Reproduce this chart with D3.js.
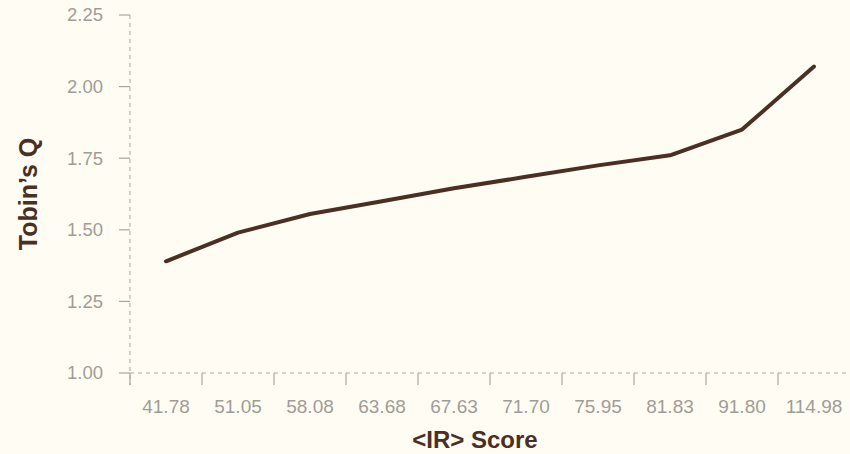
<!DOCTYPE html>
<html><head><meta charset="utf-8">
<script src="https://cdn.jsdelivr.net/npm/d3@7"></script>
<style>
html,body{margin:0;padding:0;background:#fffdf3;}
svg{display:block;}
</style></head>
<body>
<svg id="chart" width="850" height="454"></svg>
<script>
const categories = ["41.78","51.05","58.08","63.68","67.63","71.70","75.95","81.83","91.80","114.98"];
const tobinsQ = [1.39, 1.49, 1.555, 1.60, 1.645, 1.685, 1.725, 1.76, 1.85, 2.07];
const yTicks = [1.00, 1.25, 1.50, 1.75, 2.00, 2.25];

(function () {
const svg = d3.select("#chart");
const W = 850, H = 454;
const mLeft = 130, mRight = 850, mTop = 15, mBottom = 373;

svg.append("rect").attr("width", W).attr("height", H).attr("fill", "#fffdf3");

const x = d3.scaleBand().domain(categories).range([mLeft, mRight]).padding(0);
const y = d3.scaleLinear().domain([1, 2.25]).range([mBottom, mTop]);

const axisColor = "#a9a6a0";
const tickText = "#9f9c97";
const brown = "#4a2f22";

svg.append("line").attr("x1", mLeft).attr("x2", mLeft).attr("y1", mTop).attr("y2", mBottom + 12)
  .attr("stroke", axisColor).attr("stroke-width", 1).attr("stroke-dasharray", "4,4");
svg.append("line").attr("x1", mLeft).attr("x2", mRight).attr("y1", mBottom).attr("y2", mBottom)
  .attr("stroke", axisColor).attr("stroke-width", 1).attr("stroke-dasharray", "4,4");

const yg = svg.append("g");
yTicks.forEach(t => {
  yg.append("line").attr("x1", mLeft - 11).attr("x2", mLeft).attr("y1", y(t)).attr("y2", y(t))
    .attr("stroke", axisColor).attr("stroke-width", 1.2);
  yg.append("text").attr("x", 103).attr("y", y(t)).attr("dy", "0.35em")
    .attr("text-anchor", "end").attr("fill", tickText)
    .attr("font-family", "Liberation Sans, Arial, sans-serif").attr("font-size", 18.5)
    .text(d3.format(".2f")(t));
});

const xg = svg.append("g");
categories.forEach(c => {
  xg.append("line").attr("x1", x(c)).attr("x2", x(c)).attr("y1", mBottom).attr("y2", mBottom + 12)
    .attr("stroke", axisColor).attr("stroke-width", 1.2);
  xg.append("text").attr("x", x(c) + x.bandwidth() / 2).attr("y", 413)
    .attr("text-anchor", "middle").attr("fill", tickText)
    .attr("font-family", "Liberation Sans, Arial, sans-serif").attr("font-size", 19)
    .text(c);
});

const line = d3.line()
  .x((d, i) => x(categories[i]) + x.bandwidth() / 2)
  .y(d => y(d));
svg.append("path").datum(tobinsQ).attr("d", line)
  .attr("fill", "none").attr("stroke", brown).attr("stroke-width", 4)
  .attr("stroke-linejoin", "round").attr("stroke-linecap", "round");

svg.append("text").attr("x", 475).attr("y", 448).attr("text-anchor", "middle")
  .attr("fill", brown).attr("font-weight", "bold")
  .attr("font-family", "Liberation Sans Narrow, Arial Narrow, sans-serif").attr("font-size", 24)
  .text("<IR> Score");
svg.append("text").attr("transform", "translate(37,194) rotate(-90)").attr("text-anchor", "middle")
  .attr("fill", brown).attr("font-weight", "bold")
  .attr("font-family", "Liberation Sans Narrow, Arial Narrow, sans-serif").attr("font-size", 25)
  .text("Tobin’s Q");
})();
</script>
</body></html>
